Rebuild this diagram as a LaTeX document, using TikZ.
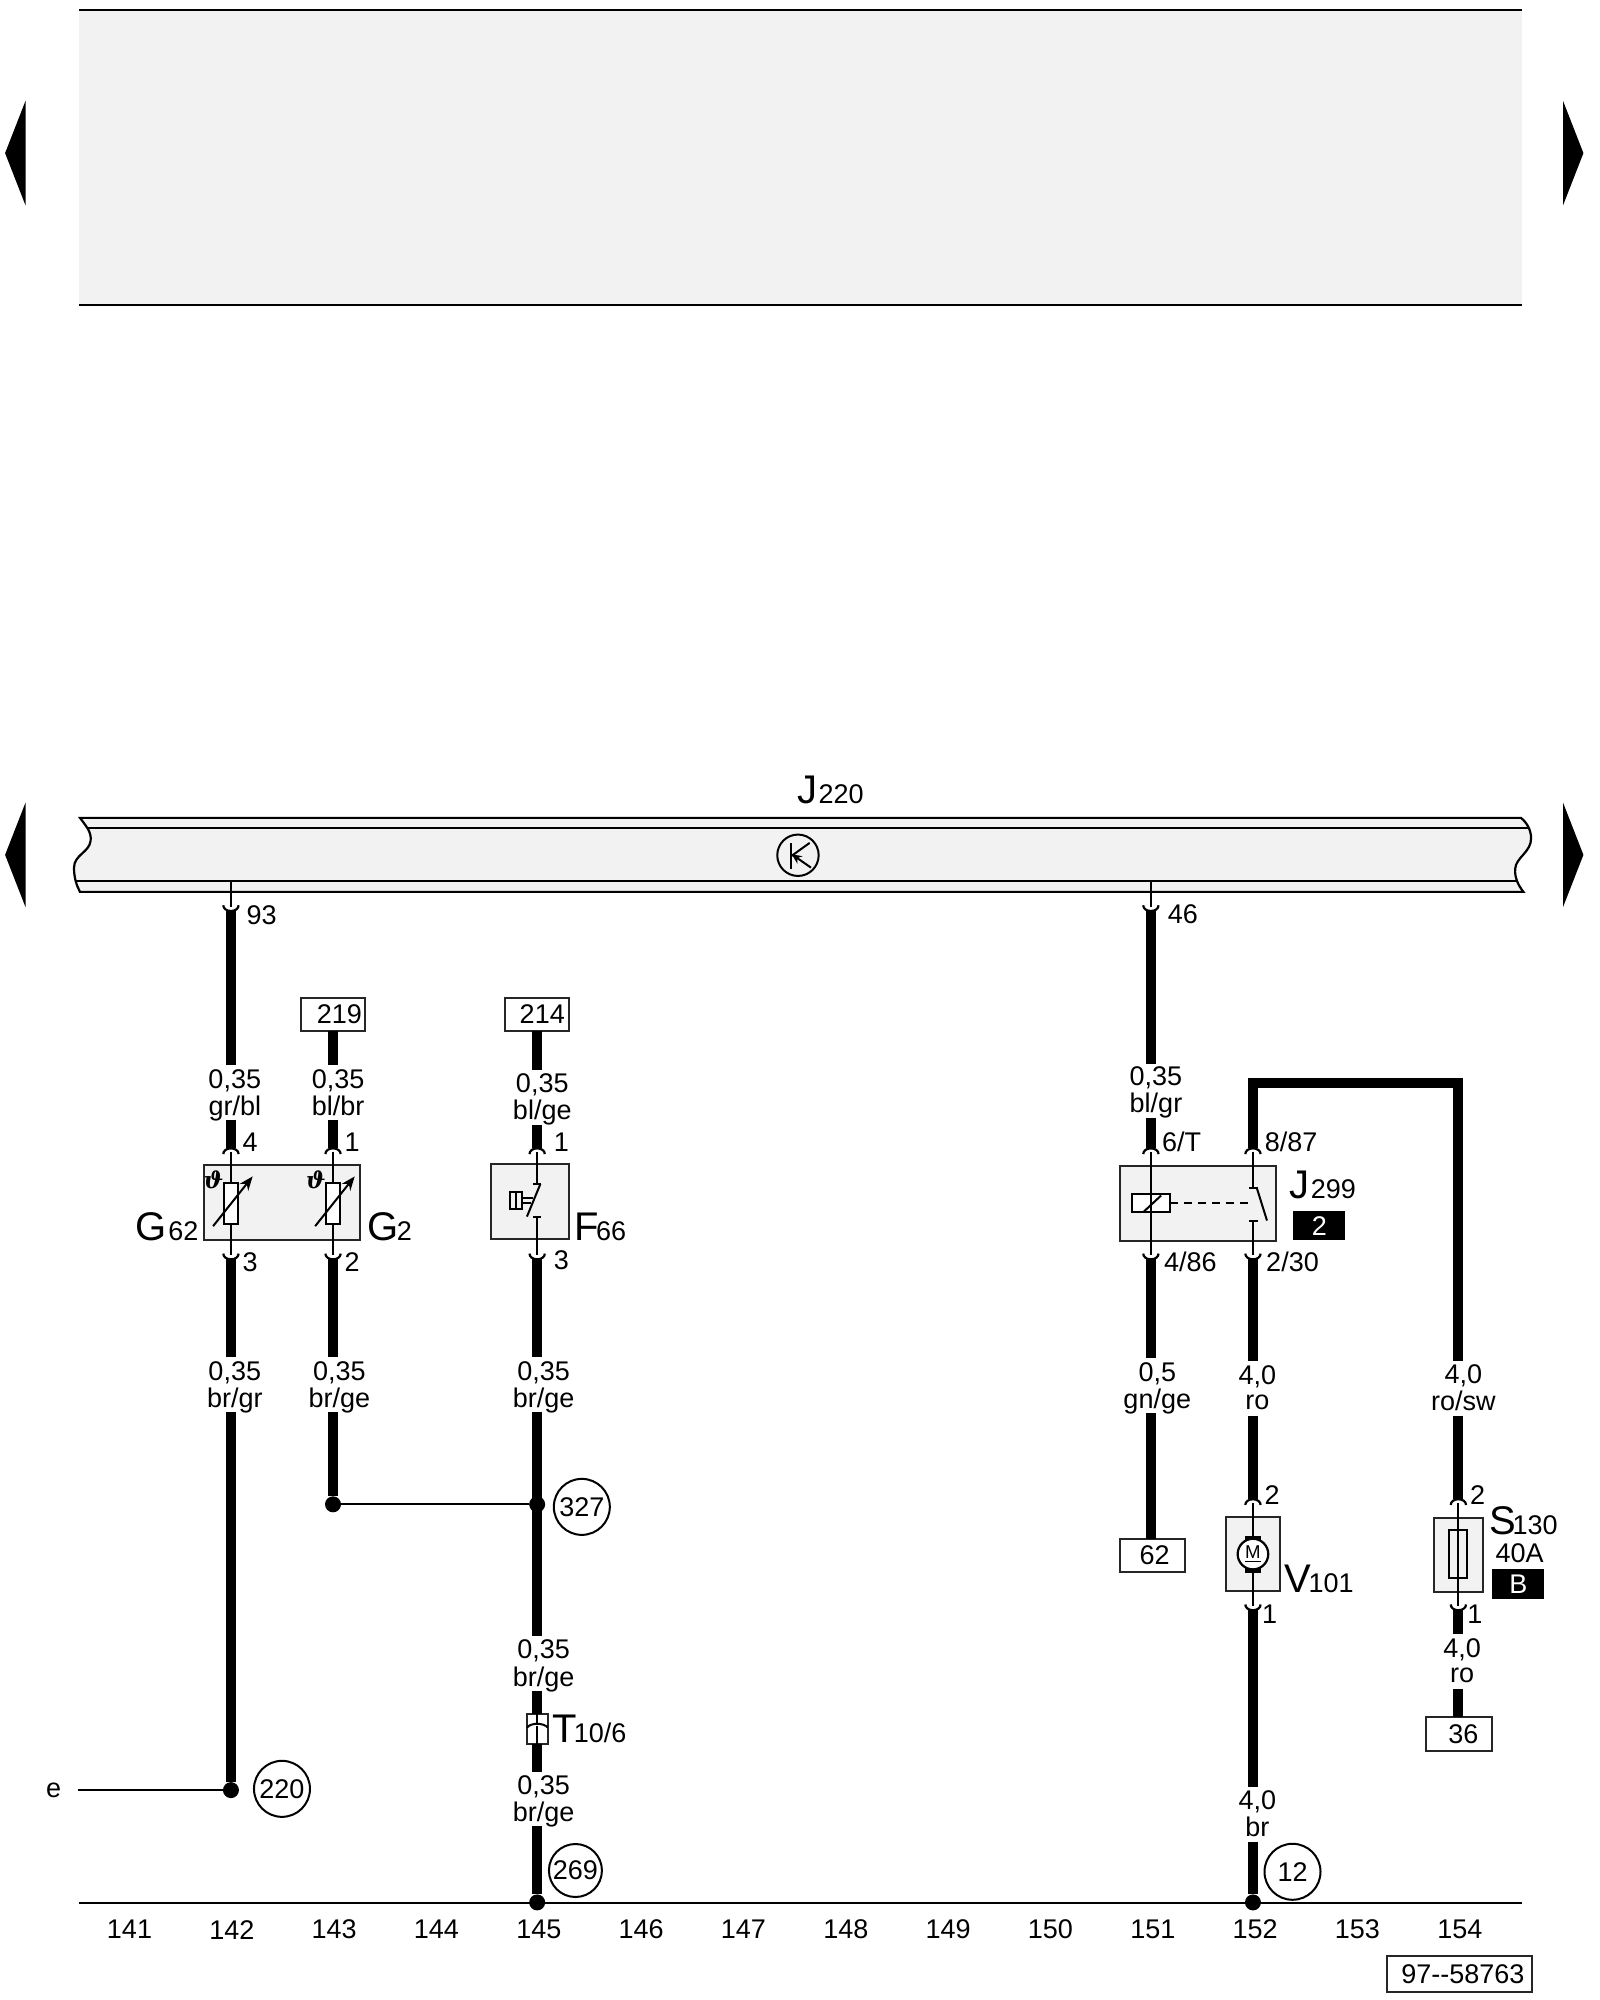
\documentclass[tikz,border=0pt]{standalone}
\usepackage{fontspec}
\setmainfont{Liberation Sans}
\newfontfamily\thetaf{DejaVu Serif}
\usetikzlibrary{calc,fit,arrows.meta}
\definecolor{panel}{HTML}{F2F2F2}
\renewcommand\arraystretch{0.93}
\newcommand\lblf{\fontsize{13.5}{13.5}\selectfont}
\newcommand\bigf{\fontsize{20}{20}\selectfont}
\newcommand\wt[3][5.6pt]{\raisebox{-#1}[0pt][0pt]{\begin{tabular}{@{}c@{}}#2\\#3\end{tabular}}}
\newcommand\pintop[1]{\draw[pinline] ($(#1)+(-6,4.5)$) .. controls ($(#1)+(-6,2)$) and ($(#1)+(-3.5,0)$) .. (#1) .. controls ($(#1)+(3.5,0)$) and ($(#1)+(6,2)$) .. ($(#1)+(6,4.5)$);}
\newcommand\pinbot[1]{\draw[pinline] ($(#1)+(-6,-4.5)$) .. controls ($(#1)+(-6,-2)$) and ($(#1)+(-3.5,0)$) .. (#1) .. controls ($(#1)+(3.5,0)$) and ($(#1)+(6,-2)$) .. ($(#1)+(6,-4.5)$);}
\tikzset{
  every node/.style={inner sep=0pt,outer sep=0pt,font=\lblf},
  thinl/.style={line width=1pt,black},
  inpin/.style={line width=1pt,black,shorten <=2pt,shorten >=2pt},
  frombar/.style={line width=1pt,black,shorten >=2pt},
  pinline/.style={line width=1.1pt,black},
  wire/.style={line width=5pt,black},
  comp/.style={draw=black!85,line width=1pt,fill=panel,inner sep=0pt},
  tbox/.style={draw=black!85,line width=1pt,fill=white,inner sep=0pt},
  wl/.style={minimum height=27.4pt,align=center},
  tag/.style={fill=black,inner sep=0pt,text=white},
  ring/.style={circle,draw=black,line width=1pt,fill=white,minimum size=#1},
  junction/.style={circle,fill=black,minimum size=8pt},
  sub/.style={anchor=base west},
  sym/.style={line width=1pt,black},
  symf/.style={line width=1pt,black,fill=white},
}
\begin{document}
\begin{tikzpicture}[x=0.638pt,y=-0.638pt]
\useasboundingbox (0,0) rectangle (1254,1567.5);
% top panel
\fill[panel] (62,8) rectangle (1193,239);
\draw[thinl] (62,8) -- (1193,8);
\draw[thinl] (62,239) -- (1193,239);
% page arrows
\foreach \y in {120,670}{
  \fill (20,\y-41) -- (4,\y) -- (20,\y+41) -- cycle;
  \fill (1225,\y-41) -- (1241,\y) -- (1225,\y+41) -- cycle;
}
% J220 bar
\def\barpath{(62.7,641) .. controls (67,647) and (72,652) .. (71,659) .. controls (70,668) and (58,670) .. (58,680) .. controls (58,688) and (60,694) .. (62.7,699) -- (1194,699) .. controls (1190,694) and (1187,688) .. (1187.5,681) .. controls (1188,672) and (1200,668) .. (1200,657) .. controls (1200,650) and (1196,644) .. (1192,641) -- cycle}
\fill[panel] \barpath;
\begin{scope}
\clip \barpath;
\draw[thinl] (50,648.6) -- (1210,648.6);
\draw[thinl] (50,690.7) -- (1210,690.7);
\end{scope}
\draw[line width=1.1pt] \barpath;
\coordinate (barA) at (181,691);
\coordinate (barB) at (902,691);
\node[sub] (J220) at (625,630) {\bigf J\lblf\kern0.6pt 220};
\node[circle,draw=black,line width=1pt,minimum size=20.7pt] (tr) at (625.4,670.3) {};
\draw[sym] (620,661) -- (620,681);
\draw[sym] (620.5,670.7) -- (634.6,660.6);
\draw[sym,-{Stealth[length=5pt,width=4.5pt]}] (635.6,680) -- (620.5,669.5);

% components
\node[comp,fit={(160,913) (282,972)}] (G) {};
\node[comp,fit={(385,912) (446,971)}] (F) {};
\node[comp,fit={(878,914) (1000,973)}] (J299) {};
\node[comp,fit={(961,1189) (1003,1247)}] (V) {};
\node[comp,fit={(1124,1190) (1162,1248)}] (S) {};

% pins
\coordinate (p93) at (181,714);  \coordinate (p4) at (181,900);  \coordinate (p3) at (181,987);
\coordinate (p1b) at (261,900);  \coordinate (p2b) at (261,987);
\coordinate (p1f) at (421,900);  \coordinate (p3f) at (421,987);
\coordinate (p46) at (902,714);  \coordinate (p6t) at (902,900); \coordinate (p486) at (902,987);
\coordinate (p887) at (982,900); \coordinate (p230) at (982,987);
\coordinate (pv2) at (982,1175); \coordinate (pv1) at (982,1262);
\coordinate (ps2) at (1143,1175); \coordinate (ps1) at (1143,1262);
\pinbot{p93}\pintop{p4}\pinbot{p3}\pintop{p1b}\pinbot{p2b}\pintop{p1f}\pinbot{p3f}
\pinbot{p46}\pintop{p6t}\pinbot{p486}\pintop{p887}\pinbot{p230}\pintop{pv2}\pinbot{pv1}\pintop{ps2}\pinbot{ps1}

% thin internal conductors
\draw[frombar] (barA) -- (p93);
\draw[frombar] (barB) -- (p46);
\draw[inpin] (p4) -- (p3);
\draw[inpin] (p1b) -- (p2b);
\draw[inpin] (p6t) -- (p486);
\draw[inpin] (pv2) -- (pv1);
\draw[inpin] (ps2) -- (ps1);

% G62 / G2 sensors
\foreach \x/\n in {181/a,261/b}{
  \draw[symf] (\x-5.6,927.5) rectangle (\x+5.6,959.5);
  \draw[sym,-{Stealth[length=7pt,width=5.5pt]}] (\x-14,961) -- (\x+17,922);
  \node[font=\thetaf\fontsize{11.5}{11.5}\selectfont\bfseries\itshape] (th\n) at (\x-13.5,924.5) {ϑ};
}
% F66 switch
\coordinate (fa) at (421,928); \coordinate (fb) at (421,953.6);
\draw[frombar] (fa) -- (p1f);
\draw[frombar] (fb) -- (p3f);
\draw[sym] (418,928) -- (424,928);
\draw[sym] (418,953.6) -- (424,953.6);
\draw[sym] (423.5,928) -- (413,953.5);
\draw[sym] (400,934) rectangle (409.5,947.5);
\draw[sym] (404.7,934) -- (404.7,947.5);
\draw[sym] (409.5,939) -- (418,939);
\draw[sym] (409.5,942.5) -- (416.5,942.5);
% J299 relay
\draw[symf] (887,936) rectangle (917,950);
\draw[thinl] (902,936) -- (902,950);
\draw[sym] (896,950) -- (910,937);
\draw[sym,dash pattern=on 4pt off 3pt] (917,942.6) -- (981,942.6);
\coordinate (ja) at (982,931); \coordinate (jb) at (982,956.6);
\draw[frombar] (ja) -- (p887);
\draw[frombar] (jb) -- (p230);
\draw[sym] (979,931) -- (986,931);
\draw[sym] (979,956.6) -- (986,956.6);
\draw[sym] (985,931) -- (993,956.6);
% motor
\fill (975.5,1203.6) rectangle (988.5,1233);
\node[circle,draw=black,fill=white,line width=1.1pt,minimum size=15.3pt] (M) at (982,1218) {};
\node[font=\fontsize{9.3}{9.3}\selectfont] (Mt) at (982,1216.5) {M};
\draw[line width=0.7pt] (976,1224) -- (988,1224);
% fuse
\draw[sym] (1136,1199) rectangle (1150,1237);

% wire labels
\node[wl] (w1) at (184,856) {\wt{0,35}{gr/bl}};
\node[wl] (w2) at (184,1085) {\wt{0,35}{br/gr}};
\node[wl] (w3) at (265,856) {\wt{0,35}{bl/br}};
\node[wl] (w4) at (266,1085) {\wt{0,35}{br/ge}};
\node[wl] (w5) at (425,860) {\wt[5.1pt]{0,35}{bl/ge}};
\node[wl] (w6) at (426,1085) {\wt{0,35}{br/ge}};
\node[wl] (w7) at (426,1304) {\wt[5.1pt]{0,35}{br/ge}};
\node[wl] (w8) at (426,1410) {\wt[5.1pt]{0,35}{br/ge}};
\node[wl] (w9) at (906,855) {\wt[4.9pt]{0,35}{bl/gr}};
\node[wl] (w10) at (907,1086) {\wt[5.4pt]{0,5}{gn/ge}};
\node[wl] (w11) at (985.5,1088) {\wt[5pt]{4,0}{ro}};
\node[wl] (w12) at (1147,1088) {\wt[5pt]{4,0}{ro/sw}};
\node[wl] (w13) at (1146,1302) {\wt[5.1pt]{4,0}{ro}};
\node[wl] (w14) at (985.5,1422) {\wt[5.1pt]{4,0}{br}};

% terminal boxes
\node[tbox,fit={(236,782) (286,808)}] (b219) {};
\node (t219) at (266,794.5) {219};
\node[tbox,fit={(396,782) (446,808)}] (b214) {};
\node (t214) at (425,794.5) {214};
\node[tbox,fit={(878,1206) (929,1232)}] (b62) {};
\node (t62) at (905,1219) {62};
\node[tbox,fit={(1118,1346) (1169,1372)}] (b36) {};
\node (t36) at (1147,1359) {36};
% T connector
\node[tbox,fit={(413,1343) (429.4,1366.6)}] (Tc) {};
\draw[sym] (413,1354) .. controls (416,1350) and (426,1350) .. (429.4,1354);
\draw[sym] (421,1343) -- (421,1350.5);
\draw[sym] (421,1353) -- (421,1366.6);

% junctions
\node[junction] (d220) at (181,1403) {};
\node[junction] (d143) at (261,1179) {};
\node[junction] (d327) at (421,1179) {};
\node[junction] (dg1) at (421,1491) {};
\node[junction] (dg2) at (982,1491) {};
\node (e) at (42,1403) {e};
\coordinate (eend) at (61,1403);

% thick wires
\draw[wire] (p93) -- (p93 |- w1.north);
\draw[wire] (w1.south -| p4) -- (p4);
\draw[wire] (p3) -- (p3 |- w2.north);
\draw[wire] (p3 |- w2.south) -- (d220);
\draw[wire] (p1b |- b219.south) -- (p1b |- w3.north);
\draw[wire] (p1b |- w3.south) -- (p1b);
\draw[wire] (p2b) -- (p2b |- w4.north);
\draw[wire] (p2b |- w4.south) -- (d143);
\draw[wire] (p1f |- b214.south) -- (p1f |- w5.north);
\draw[wire] (p1f |- w5.south) -- (p1f);
\draw[wire] (p3f) -- (p3f |- w6.north);
\draw[wire] (p3f |- w6.south) -- (p3f |- w7.north);
\draw[wire] (p3f |- w7.south) -- (p3f |- Tc.north);
\draw[wire] (p3f |- Tc.south) -- (p3f |- w8.north);
\draw[wire] (p3f |- w8.south) -- (dg1);
\draw[wire] (p46) -- (p46 |- w9.north);
\draw[wire] (p46 |- w9.south) -- (p6t);
\draw[wire] (p486) -- (p486 |- w10.north);
\draw[wire] (p486 |- w10.south) -- (p486 |- b62.north);
\draw[wire] (p230) -- (p230 |- w11.north);
\draw[wire] (p230 |- w11.south) -- (pv2);
\draw[wire] (pv1) -- (pv1 |- w14.north);
\draw[wire] (pv1 |- w14.south) -- (dg2);
\coordinate (cornerA) at (982,849);
\coordinate (cornerB) at (1143,849);
\draw[wire] (p887) -- (cornerA) -- (cornerB) -- (ps2 |- w12.north);
\draw[wire] (ps2 |- w12.south) -- (ps2);
\draw[wire] (ps1) -- (ps1 |- w13.north);
\draw[wire] (ps1 |- w13.south) -- (ps1 |- b36.north);
% thin signal wires
\draw[thinl] (eend) -- (d220);
\draw[thinl] (d143) -- (d327);

% pin numbers
\node (n93) at (205,717.5) {93};
\node (n46) at (927,716.5) {46};
\node (n4) at (196,895) {4};
\node (n1b) at (276,895) {1};
\node (n1f) at (440,895) {1};
\node (n3) at (196,989) {3};
\node (n2b) at (276,989) {2};
\node (n3f) at (440,988) {3};
\node (n6t) at (926,895) {6/T};
\node (n887) at (1012,895) {8/87};
\node (n486) at (933,989) {4/86};
\node (n230) at (1013,989) {2/30};
\node (nv2) at (997,1172) {2};
\node (nv1) at (995,1265) {1};
\node (ns2) at (1158,1172) {2};
\node (ns1) at (1156,1265) {1};

% component names
\node[sub] (LG62) at (106,972) {\bigf G\lblf\kern1pt 62};
\node[sub] (LG2) at (288,972) {\bigf G\lblf\kern-0.8pt 2};
\node[sub] (LF66) at (450,972) {\bigf F\lblf\kern-1.3pt 66};
\node[sub] (LJ299) at (1011,939) {\bigf J\lblf\kern0.4pt 299};
\node[sub] (LV) at (1007,1248) {\bigf V\lblf\kern-1.5pt 101};
\node[sub] (LS) at (1167,1203) {\bigf S\lblf\kern-1.5pt 130};
\node (L40) at (1191,1217) {40A};
\node[sub] (LT) at (433,1366) {\bigf T\lblf\kern-1.5pt 10/6};
\node[tag,fit={(1013,949) (1054,972)}] (tag2) {};
\node[text=white] (tag2t) at (1034,961) {2};
\node[tag,fit={(1169,1230) (1210,1253)}] (tagB) {};
\node[text=white] (tagBt) at (1190,1242) {B};

% numbered circles
\node[ring=28pt] (c220) at (221,1402) {220};
\node[ring=28pt] (c327) at (456,1181) {327};
\node[ring=26.5pt] (c269) at (451,1466) {269};
\node[ring=28pt] (c12) at (1013,1467) {12};

% base line and columns
\coordinate (baseL) at (62,1491.7);
\coordinate (baseR) at (1193,1491.7);
\draw[thinl] (baseL) -- (baseR);
\foreach \n [count=\i from 0] in {141,...,154}{
  \node (col\n) at ({101.5+80.2*\i},1512.3) {\n};
}
\node[tbox,fit={(1087,1533) (1201,1561)}] (ref) {};
\node (reft) at (1146.5,1547) {97{-}{-}58763};
\end{tikzpicture}
\end{document}
